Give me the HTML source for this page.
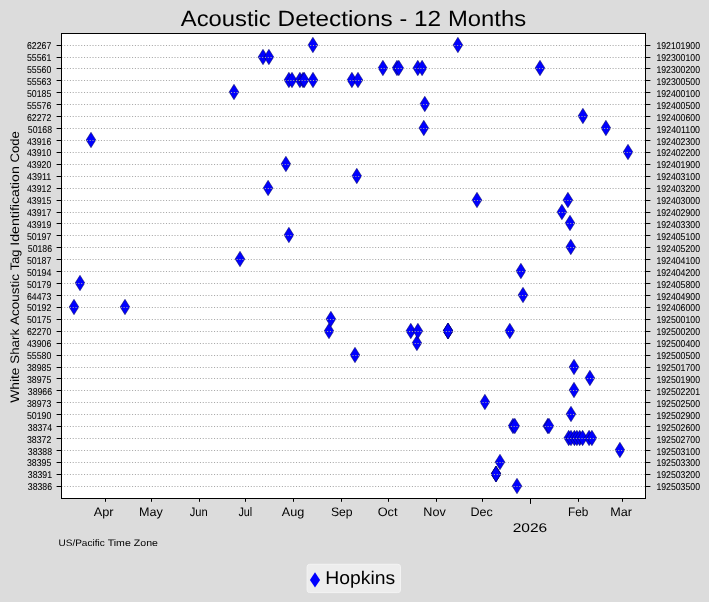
<!DOCTYPE html><html><head><meta charset="utf-8"><title>Acoustic Detections - 12 Months</title><style>html,body{margin:0;padding:0;background:#dcdcdc;}svg{display:block;will-change:transform;}text{font-family:"Liberation Sans",sans-serif;fill:#000;text-rendering:geometricPrecision;}</style></head><body>
<svg width="709" height="602" viewBox="0 0 709 602">
<rect x="0" y="0" width="709" height="602" fill="#dcdcdc"/>
<rect x="61.5" y="33.5" width="584.0" height="465.0" fill="#fff"/>
<g fill="#0000ff" stroke="#000050" stroke-width="0.50" stroke-linejoin="miter">
<path d="M517.00 478.30L521.85 486.00L517.00 493.70L512.15 486.00Z"/>
<path d="M496.00 466.30L500.85 474.00L496.00 481.70L491.15 474.00Z"/>
<path d="M496.00 466.30L500.85 474.00L496.00 481.70L491.15 474.00Z"/>
<path d="M496.00 466.30L500.85 474.00L496.00 481.70L491.15 474.00Z"/>
<path d="M496.00 466.30L500.85 474.00L496.00 481.70L491.15 474.00Z"/>
<path d="M500.00 454.30L504.85 462.00L500.00 469.70L495.15 462.00Z"/>
<path d="M619.90 442.30L624.75 450.00L619.90 457.70L615.05 450.00Z"/>
<path d="M568.70 430.30L573.55 438.00L568.70 445.70L563.85 438.00Z"/>
<path d="M571.00 430.30L575.85 438.00L571.00 445.70L566.15 438.00Z"/>
<path d="M574.40 430.30L579.25 438.00L574.40 445.70L569.55 438.00Z"/>
<path d="M576.90 430.30L581.75 438.00L576.90 445.70L572.05 438.00Z"/>
<path d="M579.70 430.30L584.55 438.00L579.70 445.70L574.85 438.00Z"/>
<path d="M582.60 430.30L587.45 438.00L582.60 445.70L577.75 438.00Z"/>
<path d="M589.10 430.30L593.95 438.00L589.10 445.70L584.25 438.00Z"/>
<path d="M591.90 430.30L596.75 438.00L591.90 445.70L587.05 438.00Z"/>
<path d="M513.00 418.30L517.85 426.00L513.00 433.70L508.15 426.00Z"/>
<path d="M514.80 418.30L519.65 426.00L514.80 433.70L509.95 426.00Z"/>
<path d="M547.80 418.30L552.65 426.00L547.80 433.70L542.95 426.00Z"/>
<path d="M549.00 418.30L553.85 426.00L549.00 433.70L544.15 426.00Z"/>
<path d="M571.00 406.30L575.85 414.00L571.00 421.70L566.15 414.00Z"/>
<path d="M484.90 394.30L489.75 402.00L484.90 409.70L480.05 402.00Z"/>
<path d="M574.00 382.30L578.85 390.00L574.00 397.70L569.15 390.00Z"/>
<path d="M589.90 370.30L594.75 378.00L589.90 385.70L585.05 378.00Z"/>
<path d="M574.00 359.30L578.85 367.00L574.00 374.70L569.15 367.00Z"/>
<path d="M355.00 347.30L359.85 355.00L355.00 362.70L350.15 355.00Z"/>
<path d="M416.90 335.30L421.75 343.00L416.90 350.70L412.05 343.00Z"/>
<path d="M329.00 323.30L333.85 331.00L329.00 338.70L324.15 331.00Z"/>
<path d="M410.80 323.30L415.65 331.00L410.80 338.70L405.95 331.00Z"/>
<path d="M417.90 323.30L422.75 331.00L417.90 338.70L413.05 331.00Z"/>
<path d="M448.00 323.30L452.85 331.00L448.00 338.70L443.15 331.00Z"/>
<path d="M448.00 323.30L452.85 331.00L448.00 338.70L443.15 331.00Z"/>
<path d="M448.00 323.30L452.85 331.00L448.00 338.70L443.15 331.00Z"/>
<path d="M448.00 323.30L452.85 331.00L448.00 338.70L443.15 331.00Z"/>
<path d="M509.80 323.30L514.65 331.00L509.80 338.70L504.95 331.00Z"/>
<path d="M330.90 311.30L335.75 319.00L330.90 326.70L326.05 319.00Z"/>
<path d="M74.00 299.30L78.85 307.00L74.00 314.70L69.15 307.00Z"/>
<path d="M125.00 299.30L129.85 307.00L125.00 314.70L120.15 307.00Z"/>
<path d="M523.00 287.30L527.85 295.00L523.00 302.70L518.15 295.00Z"/>
<path d="M80.00 275.30L84.85 283.00L80.00 290.70L75.15 283.00Z"/>
<path d="M520.90 263.30L525.75 271.00L520.90 278.70L516.05 271.00Z"/>
<path d="M240.00 251.30L244.85 259.00L240.00 266.70L235.15 259.00Z"/>
<path d="M570.80 239.30L575.65 247.00L570.80 254.70L565.95 247.00Z"/>
<path d="M288.90 227.30L293.75 235.00L288.90 242.70L284.05 235.00Z"/>
<path d="M570.00 215.30L574.85 223.00L570.00 230.70L565.15 223.00Z"/>
<path d="M561.90 204.30L566.75 212.00L561.90 219.70L557.05 212.00Z"/>
<path d="M477.00 192.30L481.85 200.00L477.00 207.70L472.15 200.00Z"/>
<path d="M567.90 192.30L572.75 200.00L567.90 207.70L563.05 200.00Z"/>
<path d="M268.10 180.30L272.95 188.00L268.10 195.70L263.25 188.00Z"/>
<path d="M356.80 168.30L361.65 176.00L356.80 183.70L351.95 176.00Z"/>
<path d="M285.90 156.30L290.75 164.00L285.90 171.70L281.05 164.00Z"/>
<path d="M628.00 144.30L632.85 152.00L628.00 159.70L623.15 152.00Z"/>
<path d="M91.00 132.30L95.85 140.00L91.00 147.70L86.15 140.00Z"/>
<path d="M423.80 120.30L428.65 128.00L423.80 135.70L418.95 128.00Z"/>
<path d="M605.90 120.30L610.75 128.00L605.90 135.70L601.05 128.00Z"/>
<path d="M582.90 108.30L587.75 116.00L582.90 123.70L578.05 116.00Z"/>
<path d="M424.80 96.30L429.65 104.00L424.80 111.70L419.95 104.00Z"/>
<path d="M234.00 84.30L238.85 92.00L234.00 99.70L229.15 92.00Z"/>
<path d="M288.90 72.30L293.75 80.00L288.90 87.70L284.05 80.00Z"/>
<path d="M292.00 72.30L296.85 80.00L292.00 87.70L287.15 80.00Z"/>
<path d="M299.90 72.30L304.75 80.00L299.90 87.70L295.05 80.00Z"/>
<path d="M303.00 72.30L307.85 80.00L303.00 87.70L298.15 80.00Z"/>
<path d="M304.20 72.30L309.05 80.00L304.20 87.70L299.35 80.00Z"/>
<path d="M313.00 72.30L317.85 80.00L313.00 87.70L308.15 80.00Z"/>
<path d="M351.90 72.30L356.75 80.00L351.90 87.70L347.05 80.00Z"/>
<path d="M358.00 72.30L362.85 80.00L358.00 87.70L353.15 80.00Z"/>
<path d="M382.90 60.30L387.75 68.00L382.90 75.70L378.05 68.00Z"/>
<path d="M397.00 60.30L401.85 68.00L397.00 75.70L392.15 68.00Z"/>
<path d="M398.80 60.30L403.65 68.00L398.80 75.70L393.95 68.00Z"/>
<path d="M417.80 60.30L422.65 68.00L417.80 75.70L412.95 68.00Z"/>
<path d="M422.10 60.30L426.95 68.00L422.10 75.70L417.25 68.00Z"/>
<path d="M540.00 60.30L544.85 68.00L540.00 75.70L535.15 68.00Z"/>
<path d="M263.00 49.30L267.85 57.00L263.00 64.70L258.15 57.00Z"/>
<path d="M268.90 49.30L273.75 57.00L268.90 64.70L264.05 57.00Z"/>
<path d="M312.90 37.30L317.75 45.00L312.90 52.70L308.05 45.00Z"/>
<path d="M457.90 37.30L462.75 45.00L457.90 52.70L453.05 45.00Z"/>
</g>
<g stroke="#a8a8a8" stroke-width="1" stroke-dasharray="1.067 1.7596">
<line x1="61.39" y1="45.5" x2="645" y2="45.5"/>
<line x1="61.39" y1="57.5" x2="645" y2="57.5"/>
<line x1="61.39" y1="68.5" x2="645" y2="68.5"/>
<line x1="61.39" y1="80.5" x2="645" y2="80.5"/>
<line x1="61.39" y1="92.5" x2="645" y2="92.5"/>
<line x1="61.39" y1="104.5" x2="645" y2="104.5"/>
<line x1="61.39" y1="116.5" x2="645" y2="116.5"/>
<line x1="61.39" y1="128.5" x2="645" y2="128.5"/>
<line x1="61.39" y1="140.5" x2="645" y2="140.5"/>
<line x1="61.39" y1="152.5" x2="645" y2="152.5"/>
<line x1="61.39" y1="164.5" x2="645" y2="164.5"/>
<line x1="61.39" y1="176.5" x2="645" y2="176.5"/>
<line x1="61.39" y1="188.5" x2="645" y2="188.5"/>
<line x1="61.39" y1="200.5" x2="645" y2="200.5"/>
<line x1="61.39" y1="212.5" x2="645" y2="212.5"/>
<line x1="61.39" y1="223.5" x2="645" y2="223.5"/>
<line x1="61.39" y1="235.5" x2="645" y2="235.5"/>
<line x1="61.39" y1="247.5" x2="645" y2="247.5"/>
<line x1="61.39" y1="259.5" x2="645" y2="259.5"/>
<line x1="61.39" y1="271.5" x2="645" y2="271.5"/>
<line x1="61.39" y1="283.5" x2="645" y2="283.5"/>
<line x1="61.39" y1="295.5" x2="645" y2="295.5"/>
<line x1="61.39" y1="307.5" x2="645" y2="307.5"/>
<line x1="61.39" y1="319.5" x2="645" y2="319.5"/>
<line x1="61.39" y1="331.5" x2="645" y2="331.5"/>
<line x1="61.39" y1="343.5" x2="645" y2="343.5"/>
<line x1="61.39" y1="355.5" x2="645" y2="355.5"/>
<line x1="61.39" y1="367.5" x2="645" y2="367.5"/>
<line x1="61.39" y1="378.5" x2="645" y2="378.5"/>
<line x1="61.39" y1="390.5" x2="645" y2="390.5"/>
<line x1="61.39" y1="402.5" x2="645" y2="402.5"/>
<line x1="61.39" y1="414.5" x2="645" y2="414.5"/>
<line x1="61.39" y1="426.5" x2="645" y2="426.5"/>
<line x1="61.39" y1="438.5" x2="645" y2="438.5"/>
<line x1="61.39" y1="450.5" x2="645" y2="450.5"/>
<line x1="61.39" y1="462.5" x2="645" y2="462.5"/>
<line x1="61.39" y1="474.5" x2="645" y2="474.5"/>
<line x1="61.39" y1="486.5" x2="645" y2="486.5"/>
</g>
<rect x="61.5" y="33.5" width="584.0" height="465.0" fill="none" stroke="#000" stroke-width="1"/>
<g stroke="#000" stroke-width="1">
<line x1="56.6" y1="45.5" x2="61.5" y2="45.5"/><line x1="645.5" y1="45.5" x2="650.4" y2="45.5"/>
<line x1="56.6" y1="57.5" x2="61.5" y2="57.5"/><line x1="645.5" y1="57.5" x2="650.4" y2="57.5"/>
<line x1="56.6" y1="68.5" x2="61.5" y2="68.5"/><line x1="645.5" y1="68.5" x2="650.4" y2="68.5"/>
<line x1="56.6" y1="80.5" x2="61.5" y2="80.5"/><line x1="645.5" y1="80.5" x2="650.4" y2="80.5"/>
<line x1="56.6" y1="92.5" x2="61.5" y2="92.5"/><line x1="645.5" y1="92.5" x2="650.4" y2="92.5"/>
<line x1="56.6" y1="104.5" x2="61.5" y2="104.5"/><line x1="645.5" y1="104.5" x2="650.4" y2="104.5"/>
<line x1="56.6" y1="116.5" x2="61.5" y2="116.5"/><line x1="645.5" y1="116.5" x2="650.4" y2="116.5"/>
<line x1="56.6" y1="128.5" x2="61.5" y2="128.5"/><line x1="645.5" y1="128.5" x2="650.4" y2="128.5"/>
<line x1="56.6" y1="140.5" x2="61.5" y2="140.5"/><line x1="645.5" y1="140.5" x2="650.4" y2="140.5"/>
<line x1="56.6" y1="152.5" x2="61.5" y2="152.5"/><line x1="645.5" y1="152.5" x2="650.4" y2="152.5"/>
<line x1="56.6" y1="164.5" x2="61.5" y2="164.5"/><line x1="645.5" y1="164.5" x2="650.4" y2="164.5"/>
<line x1="56.6" y1="176.5" x2="61.5" y2="176.5"/><line x1="645.5" y1="176.5" x2="650.4" y2="176.5"/>
<line x1="56.6" y1="188.5" x2="61.5" y2="188.5"/><line x1="645.5" y1="188.5" x2="650.4" y2="188.5"/>
<line x1="56.6" y1="200.5" x2="61.5" y2="200.5"/><line x1="645.5" y1="200.5" x2="650.4" y2="200.5"/>
<line x1="56.6" y1="212.5" x2="61.5" y2="212.5"/><line x1="645.5" y1="212.5" x2="650.4" y2="212.5"/>
<line x1="56.6" y1="223.5" x2="61.5" y2="223.5"/><line x1="645.5" y1="223.5" x2="650.4" y2="223.5"/>
<line x1="56.6" y1="235.5" x2="61.5" y2="235.5"/><line x1="645.5" y1="235.5" x2="650.4" y2="235.5"/>
<line x1="56.6" y1="247.5" x2="61.5" y2="247.5"/><line x1="645.5" y1="247.5" x2="650.4" y2="247.5"/>
<line x1="56.6" y1="259.5" x2="61.5" y2="259.5"/><line x1="645.5" y1="259.5" x2="650.4" y2="259.5"/>
<line x1="56.6" y1="271.5" x2="61.5" y2="271.5"/><line x1="645.5" y1="271.5" x2="650.4" y2="271.5"/>
<line x1="56.6" y1="283.5" x2="61.5" y2="283.5"/><line x1="645.5" y1="283.5" x2="650.4" y2="283.5"/>
<line x1="56.6" y1="295.5" x2="61.5" y2="295.5"/><line x1="645.5" y1="295.5" x2="650.4" y2="295.5"/>
<line x1="56.6" y1="307.5" x2="61.5" y2="307.5"/><line x1="645.5" y1="307.5" x2="650.4" y2="307.5"/>
<line x1="56.6" y1="319.5" x2="61.5" y2="319.5"/><line x1="645.5" y1="319.5" x2="650.4" y2="319.5"/>
<line x1="56.6" y1="331.5" x2="61.5" y2="331.5"/><line x1="645.5" y1="331.5" x2="650.4" y2="331.5"/>
<line x1="56.6" y1="343.5" x2="61.5" y2="343.5"/><line x1="645.5" y1="343.5" x2="650.4" y2="343.5"/>
<line x1="56.6" y1="355.5" x2="61.5" y2="355.5"/><line x1="645.5" y1="355.5" x2="650.4" y2="355.5"/>
<line x1="56.6" y1="367.5" x2="61.5" y2="367.5"/><line x1="645.5" y1="367.5" x2="650.4" y2="367.5"/>
<line x1="56.6" y1="378.5" x2="61.5" y2="378.5"/><line x1="645.5" y1="378.5" x2="650.4" y2="378.5"/>
<line x1="56.6" y1="390.5" x2="61.5" y2="390.5"/><line x1="645.5" y1="390.5" x2="650.4" y2="390.5"/>
<line x1="56.6" y1="402.5" x2="61.5" y2="402.5"/><line x1="645.5" y1="402.5" x2="650.4" y2="402.5"/>
<line x1="56.6" y1="414.5" x2="61.5" y2="414.5"/><line x1="645.5" y1="414.5" x2="650.4" y2="414.5"/>
<line x1="56.6" y1="426.5" x2="61.5" y2="426.5"/><line x1="645.5" y1="426.5" x2="650.4" y2="426.5"/>
<line x1="56.6" y1="438.5" x2="61.5" y2="438.5"/><line x1="645.5" y1="438.5" x2="650.4" y2="438.5"/>
<line x1="56.6" y1="450.5" x2="61.5" y2="450.5"/><line x1="645.5" y1="450.5" x2="650.4" y2="450.5"/>
<line x1="56.6" y1="462.5" x2="61.5" y2="462.5"/><line x1="645.5" y1="462.5" x2="650.4" y2="462.5"/>
<line x1="56.6" y1="474.5" x2="61.5" y2="474.5"/><line x1="645.5" y1="474.5" x2="650.4" y2="474.5"/>
<line x1="56.6" y1="486.5" x2="61.5" y2="486.5"/><line x1="645.5" y1="486.5" x2="650.4" y2="486.5"/>
<line x1="105.5" y1="498.5" x2="105.5" y2="501.8"/>
<line x1="151.5" y1="498.5" x2="151.5" y2="501.8"/>
<line x1="199.5" y1="498.5" x2="199.5" y2="501.8"/>
<line x1="245.5" y1="498.5" x2="245.5" y2="501.8"/>
<line x1="293.5" y1="498.5" x2="293.5" y2="501.8"/>
<line x1="341.5" y1="498.5" x2="341.5" y2="501.8"/>
<line x1="388.5" y1="498.5" x2="388.5" y2="501.8"/>
<line x1="436.5" y1="498.5" x2="436.5" y2="501.8"/>
<line x1="482.5" y1="498.5" x2="482.5" y2="501.8"/>
<line x1="578.5" y1="498.5" x2="578.5" y2="501.8"/>
<line x1="622.5" y1="498.5" x2="622.5" y2="501.8"/>
<line x1="530.5" y1="498.5" x2="530.5" y2="503.9"/>
</g>
<g font-size="9.9" stroke="#000" stroke-width="0.06">
<text x="51.30" y="49.00" text-anchor="end" textLength="24.3" lengthAdjust="spacingAndGlyphs">62267</text>
<text x="656.4" y="49.00" textLength="43.6" lengthAdjust="spacingAndGlyphs">192101900</text>
<text x="51.30" y="61.00" text-anchor="end" textLength="24.3" lengthAdjust="spacingAndGlyphs">55561</text>
<text x="656.4" y="61.00" textLength="43.6" lengthAdjust="spacingAndGlyphs">192300100</text>
<text x="51.30" y="73.00" text-anchor="end" textLength="24.3" lengthAdjust="spacingAndGlyphs">55560</text>
<text x="656.4" y="73.00" textLength="43.6" lengthAdjust="spacingAndGlyphs">192300200</text>
<text x="51.30" y="85.00" text-anchor="end" textLength="24.3" lengthAdjust="spacingAndGlyphs">55563</text>
<text x="656.4" y="85.00" textLength="43.6" lengthAdjust="spacingAndGlyphs">192300500</text>
<text x="51.30" y="97.00" text-anchor="end" textLength="24.3" lengthAdjust="spacingAndGlyphs">50185</text>
<text x="656.4" y="97.00" textLength="43.6" lengthAdjust="spacingAndGlyphs">192400100</text>
<text x="51.30" y="109.00" text-anchor="end" textLength="24.3" lengthAdjust="spacingAndGlyphs">55576</text>
<text x="656.4" y="109.00" textLength="43.6" lengthAdjust="spacingAndGlyphs">192400500</text>
<text x="51.30" y="121.00" text-anchor="end" textLength="24.3" lengthAdjust="spacingAndGlyphs">62272</text>
<text x="656.4" y="121.00" textLength="43.6" lengthAdjust="spacingAndGlyphs">192400600</text>
<text x="52.10" y="133.00" text-anchor="end" textLength="24.3" lengthAdjust="spacingAndGlyphs">50168</text>
<text x="656.4" y="133.00" textLength="43.6" lengthAdjust="spacingAndGlyphs">192401100</text>
<text x="51.30" y="145.00" text-anchor="end" textLength="24.3" lengthAdjust="spacingAndGlyphs">43916</text>
<text x="656.4" y="145.00" textLength="43.6" lengthAdjust="spacingAndGlyphs">192402300</text>
<text x="51.30" y="156.00" text-anchor="end" textLength="24.3" lengthAdjust="spacingAndGlyphs">43910</text>
<text x="656.4" y="156.00" textLength="43.6" lengthAdjust="spacingAndGlyphs">192402200</text>
<text x="51.30" y="168.00" text-anchor="end" textLength="24.3" lengthAdjust="spacingAndGlyphs">43920</text>
<text x="656.4" y="168.00" textLength="43.6" lengthAdjust="spacingAndGlyphs">192401900</text>
<text x="51.30" y="180.00" text-anchor="end" textLength="24.3" lengthAdjust="spacingAndGlyphs">43911</text>
<text x="656.4" y="180.00" textLength="43.6" lengthAdjust="spacingAndGlyphs">192403100</text>
<text x="51.30" y="192.00" text-anchor="end" textLength="24.3" lengthAdjust="spacingAndGlyphs">43912</text>
<text x="656.4" y="192.00" textLength="43.6" lengthAdjust="spacingAndGlyphs">192403200</text>
<text x="51.30" y="204.00" text-anchor="end" textLength="24.3" lengthAdjust="spacingAndGlyphs">43915</text>
<text x="656.4" y="204.00" textLength="43.6" lengthAdjust="spacingAndGlyphs">192403000</text>
<text x="51.30" y="216.00" text-anchor="end" textLength="24.3" lengthAdjust="spacingAndGlyphs">43917</text>
<text x="656.4" y="216.00" textLength="43.6" lengthAdjust="spacingAndGlyphs">192402900</text>
<text x="51.30" y="228.00" text-anchor="end" textLength="24.3" lengthAdjust="spacingAndGlyphs">43919</text>
<text x="656.4" y="228.00" textLength="43.6" lengthAdjust="spacingAndGlyphs">192403300</text>
<text x="51.30" y="240.00" text-anchor="end" textLength="24.3" lengthAdjust="spacingAndGlyphs">50197</text>
<text x="656.4" y="240.00" textLength="43.6" lengthAdjust="spacingAndGlyphs">192405100</text>
<text x="52.10" y="252.00" text-anchor="end" textLength="24.3" lengthAdjust="spacingAndGlyphs">50186</text>
<text x="656.4" y="252.00" textLength="43.6" lengthAdjust="spacingAndGlyphs">192405200</text>
<text x="51.30" y="264.00" text-anchor="end" textLength="24.3" lengthAdjust="spacingAndGlyphs">50187</text>
<text x="656.4" y="264.00" textLength="43.6" lengthAdjust="spacingAndGlyphs">192404100</text>
<text x="51.30" y="276.00" text-anchor="end" textLength="24.3" lengthAdjust="spacingAndGlyphs">50194</text>
<text x="656.4" y="276.00" textLength="43.6" lengthAdjust="spacingAndGlyphs">192404200</text>
<text x="51.30" y="288.00" text-anchor="end" textLength="24.3" lengthAdjust="spacingAndGlyphs">50179</text>
<text x="656.4" y="288.00" textLength="43.6" lengthAdjust="spacingAndGlyphs">192405800</text>
<text x="51.30" y="300.00" text-anchor="end" textLength="24.3" lengthAdjust="spacingAndGlyphs">64473</text>
<text x="656.4" y="300.00" textLength="43.6" lengthAdjust="spacingAndGlyphs">192404900</text>
<text x="51.30" y="311.00" text-anchor="end" textLength="24.3" lengthAdjust="spacingAndGlyphs">50192</text>
<text x="656.4" y="311.00" textLength="43.6" lengthAdjust="spacingAndGlyphs">192406000</text>
<text x="51.30" y="323.00" text-anchor="end" textLength="24.3" lengthAdjust="spacingAndGlyphs">50175</text>
<text x="656.4" y="323.00" textLength="43.6" lengthAdjust="spacingAndGlyphs">192500100</text>
<text x="51.30" y="335.00" text-anchor="end" textLength="24.3" lengthAdjust="spacingAndGlyphs">62270</text>
<text x="656.4" y="335.00" textLength="43.6" lengthAdjust="spacingAndGlyphs">192500200</text>
<text x="51.30" y="347.00" text-anchor="end" textLength="24.3" lengthAdjust="spacingAndGlyphs">43906</text>
<text x="656.4" y="347.00" textLength="43.6" lengthAdjust="spacingAndGlyphs">192500400</text>
<text x="51.30" y="359.00" text-anchor="end" textLength="24.3" lengthAdjust="spacingAndGlyphs">55580</text>
<text x="656.4" y="359.00" textLength="43.6" lengthAdjust="spacingAndGlyphs">192500500</text>
<text x="51.30" y="371.00" text-anchor="end" textLength="24.3" lengthAdjust="spacingAndGlyphs">38985</text>
<text x="656.4" y="371.00" textLength="43.6" lengthAdjust="spacingAndGlyphs">192501700</text>
<text x="51.30" y="383.00" text-anchor="end" textLength="24.3" lengthAdjust="spacingAndGlyphs">38975</text>
<text x="656.4" y="383.00" textLength="43.6" lengthAdjust="spacingAndGlyphs">192501900</text>
<text x="52.10" y="395.00" text-anchor="end" textLength="24.3" lengthAdjust="spacingAndGlyphs">38966</text>
<text x="656.4" y="395.00" textLength="43.6" lengthAdjust="spacingAndGlyphs">192502201</text>
<text x="51.30" y="407.00" text-anchor="end" textLength="24.3" lengthAdjust="spacingAndGlyphs">38973</text>
<text x="656.4" y="407.00" textLength="43.6" lengthAdjust="spacingAndGlyphs">192502500</text>
<text x="51.30" y="419.00" text-anchor="end" textLength="24.3" lengthAdjust="spacingAndGlyphs">50190</text>
<text x="656.4" y="419.00" textLength="43.6" lengthAdjust="spacingAndGlyphs">192502900</text>
<text x="52.10" y="431.00" text-anchor="end" textLength="24.3" lengthAdjust="spacingAndGlyphs">38374</text>
<text x="656.4" y="431.00" textLength="43.6" lengthAdjust="spacingAndGlyphs">192502600</text>
<text x="51.30" y="443.00" text-anchor="end" textLength="24.3" lengthAdjust="spacingAndGlyphs">38372</text>
<text x="656.4" y="443.00" textLength="43.6" lengthAdjust="spacingAndGlyphs">192502700</text>
<text x="52.10" y="455.00" text-anchor="end" textLength="24.3" lengthAdjust="spacingAndGlyphs">38388</text>
<text x="656.4" y="455.00" textLength="43.6" lengthAdjust="spacingAndGlyphs">192503100</text>
<text x="51.30" y="466.00" text-anchor="end" textLength="24.3" lengthAdjust="spacingAndGlyphs">38395</text>
<text x="656.4" y="466.00" textLength="43.6" lengthAdjust="spacingAndGlyphs">192503300</text>
<text x="52.10" y="478.00" text-anchor="end" textLength="24.3" lengthAdjust="spacingAndGlyphs">38391</text>
<text x="656.4" y="478.00" textLength="43.6" lengthAdjust="spacingAndGlyphs">192503200</text>
<text x="52.10" y="490.00" text-anchor="end" textLength="24.3" lengthAdjust="spacingAndGlyphs">38386</text>
<text x="656.4" y="490.00" textLength="43.6" lengthAdjust="spacingAndGlyphs">192503500</text>
</g>
<text x="93.69" y="515.90" font-size="12.30" textLength="19.89" lengthAdjust="spacingAndGlyphs">Apr</text>
<text x="139.12" y="515.90" font-size="12.30" textLength="23.77" lengthAdjust="spacingAndGlyphs">May</text>
<text x="189.68" y="515.90" font-size="12.30" textLength="17.97" lengthAdjust="spacingAndGlyphs">Jun</text>
<text x="238.38" y="515.90" font-size="12.30" textLength="13.88" lengthAdjust="spacingAndGlyphs">Jul</text>
<text x="281.82" y="515.90" font-size="12.30" textLength="22.46" lengthAdjust="spacingAndGlyphs">Aug</text>
<text x="330.90" y="515.90" font-size="12.30" textLength="21.67" lengthAdjust="spacingAndGlyphs">Sep</text>
<text x="377.68" y="515.90" font-size="12.30" textLength="19.88" lengthAdjust="spacingAndGlyphs">Oct</text>
<text x="423.38" y="515.90" font-size="12.30" textLength="22.44" lengthAdjust="spacingAndGlyphs">Nov</text>
<text x="470.44" y="515.90" font-size="12.30" textLength="22.25" lengthAdjust="spacingAndGlyphs">Dec</text>
<text x="568.06" y="515.90" font-size="12.30" textLength="20.36" lengthAdjust="spacingAndGlyphs">Feb</text>
<text x="610.39" y="515.90" font-size="12.30" textLength="21.70" lengthAdjust="spacingAndGlyphs">Mar</text>
<text x="512.68" y="531.9" font-size="12.70" textLength="34.53" lengthAdjust="spacingAndGlyphs">2026</text>
<text x="180.89" y="25.90" font-size="22.00" textLength="89.88" lengthAdjust="spacingAndGlyphs">Acoustic</text><text x="277.57" y="25.90" font-size="22.00" textLength="115.04" lengthAdjust="spacingAndGlyphs">Detections</text><text x="399.40" y="25.90" font-size="22.00" textLength="7.72" lengthAdjust="spacingAndGlyphs">-</text><text x="413.92" y="25.90" font-size="22.00" textLength="27.21" lengthAdjust="spacingAndGlyphs">12</text><text x="447.93" y="25.90" font-size="22.00" textLength="78.18" lengthAdjust="spacingAndGlyphs">Months</text>
<g transform="translate(18.75 402.40) rotate(-90)"><text x="-0.42" y="0.00" font-size="12.30" textLength="35.27" lengthAdjust="spacingAndGlyphs">White</text><text x="38.71" y="0.00" font-size="12.30" textLength="34.84" lengthAdjust="spacingAndGlyphs">Shark</text><text x="77.40" y="0.00" font-size="12.30" textLength="50.98" lengthAdjust="spacingAndGlyphs">Acoustic</text><text x="132.24" y="0.00" font-size="12.30" textLength="20.54" lengthAdjust="spacingAndGlyphs">Tag</text><text x="156.63" y="0.00" font-size="12.30" textLength="79.54" lengthAdjust="spacingAndGlyphs">Identification</text><text x="240.02" y="0.00" font-size="12.30" textLength="31.06" lengthAdjust="spacingAndGlyphs">Code</text></g>
<text x="58.50" y="546.10" font-size="9.40" textLength="46.18" lengthAdjust="spacingAndGlyphs">US/Pacific</text><text x="107.69" y="546.10" font-size="9.40" textLength="23.15" lengthAdjust="spacingAndGlyphs">Time</text><text x="133.84" y="546.10" font-size="9.40" textLength="24.08" lengthAdjust="spacingAndGlyphs">Zone</text>
<rect x="307.1" y="564.3" width="93.4" height="28.3" rx="2.6" ry="2.6" fill="#ededed" stroke="#f3f3f3" stroke-width="1"/>
<path d="M315 572.2L320.1 579.9L315 587.6L309.9 579.9Z" fill="#0000ff"/>
<text x="325.26" y="583.90" font-size="18.40" textLength="69.92" lengthAdjust="spacingAndGlyphs">Hopkins</text>
</svg></body></html>
